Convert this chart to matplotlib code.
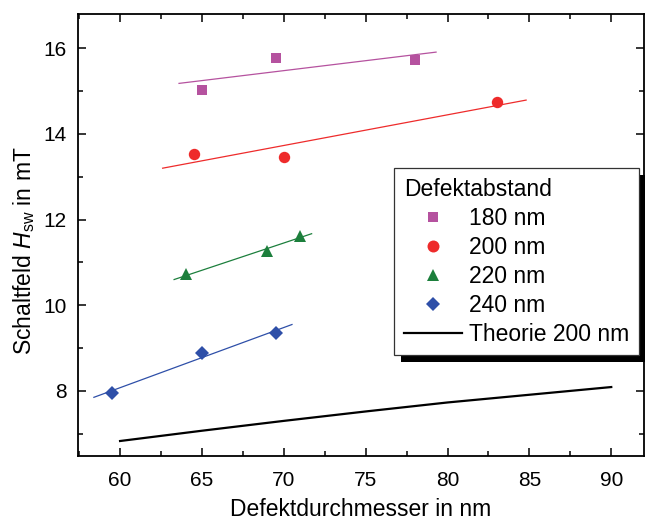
import matplotlib
matplotlib.use("Agg")
import matplotlib.pyplot as plt
from matplotlib.patches import Rectangle
from matplotlib.ticker import MultipleLocator

plt.rcParams["font.family"] = ["Liberation Sans", "DejaVu Sans"]
plt.rcParams["mathtext.fontset"] = "custom"
plt.rcParams["mathtext.rm"] = "Liberation Sans"
plt.rcParams["mathtext.it"] = "Liberation Sans:italic"

# Measured switching fields (defect diameter in nm, field in mT)
d_180 = [65.0, 69.5, 78.0]
h_180 = [15.03, 15.78, 15.73]
d_200 = [64.5, 70.0, 83.0]
h_200 = [13.53, 13.46, 14.74]
d_220 = [64.0, 69.0, 71.0]
h_220 = [10.72, 11.27, 11.62]
d_240 = [59.5, 65.0, 69.5]
h_240 = [7.95, 8.89, 9.35]

# Linear fit lines (end points)
fit_d_180 = [63.6, 79.3]
fit_h_180 = [15.18, 15.91]
fit_d_200 = [62.6, 84.8]
fit_h_200 = [13.20, 14.79]
fit_d_220 = [63.3, 71.7]
fit_h_220 = [10.60, 11.67]
fit_d_240 = [58.4, 70.5]
fit_h_240 = [7.85, 9.55]

# Theory curve for 200 nm spacing
theo_d = [60, 65, 70, 75, 80, 85, 90]
theo_h = [6.83, 7.07, 7.30, 7.52, 7.73, 7.91, 8.09]

labels = ["180 nm", "200 nm", "220 nm", "240 nm"]
colors = ["#B5529F", "#EE2B2B", "#1C7F3C", "#2E4FA8"]
markers = ["s", "o", "^", "D"]
msizes = [7.2, 8.2, 8.7, 7.2]

W, H = 645, 521
fig = plt.figure(figsize=(W / 100, H / 100), dpi=100)
ax = fig.add_axes([78 / W, 1 - 456 / H, (644 - 78) / W, (456 - 14) / H])

series = [(d_180, h_180, fit_d_180, fit_h_180),
          (d_200, h_200, fit_d_200, fit_h_200),
          (d_220, h_220, fit_d_220, fit_h_220),
          (d_240, h_240, fit_d_240, fit_h_240)]

handles = []
for (dx, hy, fx, fy), lab, c, m, ms in zip(series, labels, colors, markers, msizes):
    ax.plot(fx, fy, color=c, lw=0.9, zorder=2)
    h, = ax.plot(dx, hy, ls="none", marker=m, ms=ms, color=c,
                 markeredgewidth=0, label=lab, zorder=3)
    handles.append(h)

th, = ax.plot(theo_d, theo_h, color="black", lw=1.6, label="Theorie 200 nm", zorder=2)
handles.append(th)

ax.set_xlim(57.43, 92.0)
ax.set_ylim(6.48, 16.8)
ax.xaxis.set_major_locator(MultipleLocator(5))
ax.xaxis.set_minor_locator(MultipleLocator(2.5))
ax.yaxis.set_major_locator(MultipleLocator(2))
ax.yaxis.set_minor_locator(MultipleLocator(1))
ax.tick_params(which="both", direction="in", top=True, right=True,
               labelsize=15, width=1.1, colors="black")
ax.tick_params(axis="x", which="major", length=6, pad=10.5)
ax.tick_params(axis="y", which="major", length=6, pad=8)
ax.tick_params(which="minor", length=3.5)
for s in ax.spines.values():
    s.set_linewidth(1.3)

ax.set_xlabel("Defektdurchmesser in nm", fontsize=16.5, labelpad=6)
ax.set_ylabel(r"Schaltfeld $\mathit{H}_{\mathrm{sw}}$ in mT", fontsize=16.5)
ax.yaxis.set_label_coords(-0.0724, 0.464)

leg = ax.legend(handles=handles, title="Defektabstand", loc="upper right",
                bbox_to_anchor=(0.991, 0.651), borderaxespad=0, fontsize=16.5,
                title_fontsize=16.5, alignment="left", handlelength=2.55,
                handletextpad=0.3, labelspacing=0.26, borderpad=0.42,
                markerscale=1.05, fancybox=False, framealpha=1,
                edgecolor="#333333")
leg.get_frame().set_linewidth(0.9)
leg.set_zorder(6)

# Solid drop shadow behind the legend box
fig.canvas.draw()
bb = leg.get_window_extent()
off = 7
shadow = Rectangle((bb.x0 + off, bb.y0 - off), bb.width, bb.height,
                   transform=None, facecolor="black", edgecolor="none",
                   zorder=5.5, clip_on=False)
ax.add_artist(shadow)

fig.savefig("out.png", dpi=100)
